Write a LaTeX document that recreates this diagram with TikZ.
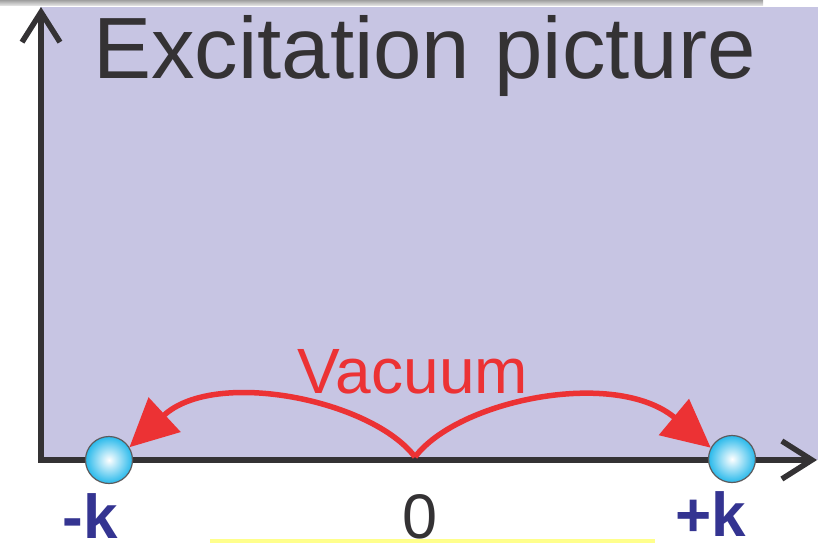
\documentclass[tikz,border=0pt]{standalone}
\usepackage{fontspec}
\setmainfont{Liberation Sans}
\usetikzlibrary{arrows.meta}

\definecolor{bgLav}{RGB}{199,197,227}
\definecolor{axGray}{RGB}{52,50,52}
\definecolor{vacRed}{RGB}{236,50,52}
\definecolor{kBlue}{RGB}{52,52,145}
\definecolor{ballCyan}{RGB}{40,185,235}
\definecolor{lineYel}{RGB}{255,255,140}

\begin{document}
\begin{tikzpicture}[
    x=1pt, y=-1pt,
    axis/.style={draw=axGray, line width=5.5pt, line join=miter,
      {Straight Barb[length=30pt,width=38pt,line width=5.5pt]}-{Straight Barb[length=30pt,width=38pt,line width=5.5pt]}},
    ball/.style={circle, draw=axGray!80, line width=1.2pt, minimum size=47pt, inner sep=0pt,
      shading=radial, inner color=white, outer color=ballCyan},
    vac/.style={draw=vacRed, line width=5.5pt, -{Triangle[length=48pt,width=46pt]}},
    klbl/.style={font=\fontsize{62}{62}\selectfont\bfseries, text=kBlue, anchor=base,
      inner sep=0pt, text depth=0pt},
  ]

  %% ===== FRAME =====
  \useasboundingbox (0,0) rectangle (821,543);
  \shade[top color=gray!75, bottom color=gray!15] (0,0) rectangle (763,6);
  \fill[bgLav] (40,7) rectangle (818,460);
  \fill[lineYel] (210,539) rectangle (655,543);

  %% ===== AXES =====
  \coordinate (ytip)   at (41,7);
  \coordinate (corner) at (41,460);
  \coordinate (xtip)   at (817,460);
  \draw[axis] (ytip) -- (corner) -- (xtip);

  %% Title
  \node[anchor=base west, inner sep=0pt, text=axGray, font=\fontsize{87}{87}\selectfont]
    (title) at (93,78) {Excitation picture};

  %% ===== BALLS =====
  \node[ball] (kneg) at (109,460) {};
  \node[ball] (kpos) at (732,459) {};
  \coordinate (zero) at (415,457);

  %% Vacuum arrows
  \draw[vac] (zero) .. controls (372,400) and (215,368) .. (kneg.32);
  \draw[vac] (zero) .. controls (458,400) and (615,368) .. (kpos.152);
  \node[anchor=base, inner sep=0pt, text=vacRed, font=\fontsize{64}{64}\selectfont]
    (vacuum) at (413,393) {Vacuum};

  %% Labels
  \node[klbl] (lneg) at (90,538) {-k};
  \node[klbl] (lpos) at (711,536) {+k};
  \node[anchor=base, inner sep=0pt, text depth=0pt, text=axGray, font=\fontsize{63}{63}\selectfont]
    (lzero) at (420,538) {0};

\end{tikzpicture}
\end{document}
